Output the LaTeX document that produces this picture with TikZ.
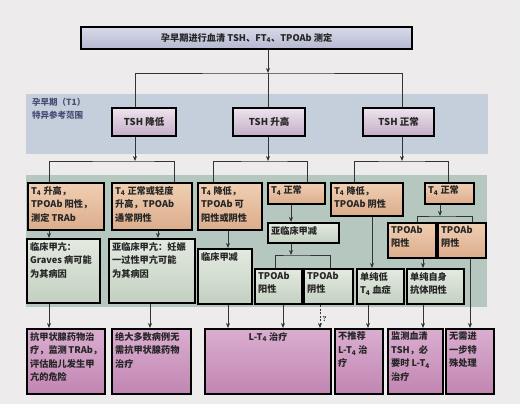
\documentclass[tikz,border=0pt]{standalone}
\usepackage{fontspec}
\newfontfamily\cjk{Noto Sans CJK SC}
\usetikzlibrary{arrows.meta}
\definecolor{paper}{HTML}{EDEBEC}
\definecolor{bandblue}{HTML}{C4CFDB}
\definecolor{bandgreen}{HTML}{B6C7BF}
\definecolor{headA}{HTML}{D8DAEA}
\definecolor{headB}{HTML}{B5B8D0}
\definecolor{tshA}{HTML}{EDE3ED}
\definecolor{tshB}{HTML}{C3AEC6}
\definecolor{orA}{HTML}{F0CFB2}
\definecolor{orB}{HTML}{DBAC8B}
\definecolor{grA}{HTML}{E4EAE0}
\definecolor{grB}{HTML}{C2D0C0}
\definecolor{puA}{HTML}{DAAED0}
\definecolor{puB}{HTML}{C185B2}
\newcommand\cell[3]{\parbox[c][#2][t]{#1}{#3}}
\newcommand\Tfour{T\textsubscript{4}}

\begin{document}
\begin{tikzpicture}[x=1pt,y=-1pt,
  box/.style={draw=black,line width=2.2pt,anchor=north west,inner sep=3pt,
    font=\cjk\bfseries\fontsize{9.2}{13.5}\selectfont,text=black!85},
  hbox/.style={box,top color=headA,bottom color=headB,minimum width=331pt,minimum height=22pt},
  tbox/.style={box,top color=tshA,bottom color=tshB,minimum height=28pt,
    font=\cjk\bfseries\fontsize{9.5}{12}\selectfont},
  obox/.style={box,top color=orA,bottom color=orB},
  gbox/.style={box,top color=grA,bottom color=grB},
  pbox/.style={box,top color=puA,bottom color=puB},
  note/.style={anchor=north west,inner sep=0pt,align=left,text=black!60!blue!40!gray,
    font=\cjk\bfseries\fontsize{8.5}{12.5}\selectfont},
  line/.style={draw=black!80,line width=0.9pt},
  arr/.style={line,-{Stealth[length=5pt,width=4pt]}},
  darr/.style={arr,dash pattern=on 2pt off 1.5pt},
  qmark/.style={right,pos=0.6,inner sep=2pt,font=\bfseries\fontsize{7}{8}\selectfont}]
\useasboundingbox[fill=paper] (0,0) rectangle (520,404);
\fill[bandblue] (26,94) rectangle (488,154);
\fill[bandgreen] (26,175) rectangle (487,307);
\node[note] (t1) at (32,98) {孕早期（T1）\\特异参考范围};

\node[hbox] (head) at (80,26) {孕早期进行血清 TSH、FT\textsubscript{4}、TPOAb 测定};
\node[tbox,minimum width=64pt] (tshlo) at (111,107) {TSH 降低};
\node[tbox,minimum width=72pt] (tshhi) at (232,107) {TSH 升高};
\node[tbox,minimum width=71pt] (tshnm) at (362,107) {TSH 正常};

\node[obox] (o1) at (27,182) {\cell{70pt}{41pt}{\Tfour\ 升高，\\TPOAb 阳性，\\测定 TRAb}};
\node[obox] (o2) at (111,182) {\cell{74pt}{41pt}{\Tfour\ 正常或轻度\\升高，TPOAb\\通常阴性}};
\node[obox] (o3) at (197,182) {\cell{58pt}{41pt}{\Tfour\ 降低，\\TPOAb 可\\阳性或阴性}};
\node[obox] (o4) at (267,182) {\cell{51pt}{15pt}{\Tfour\ 正常}};
\node[obox] (o5) at (330,182) {\cell{66pt}{27pt}{\Tfour\ 降低，\\TPOAb 阴性}};
\node[obox] (o6) at (424,182) {\cell{43pt}{15pt}{\Tfour\ 正常}};
\node[gbox] (sub) at (267,222) {\cell{65pt}{14pt}{亚临床甲减}};
\node[obox] (o7) at (387,222) {\cell{42pt}{29pt}{TPOAb\\阳性}};
\node[obox] (o8) at (437,222) {\cell{42pt}{29pt}{TPOAb\\阴性}};

\node[gbox] (g1) at (26,238) {\cell{67pt}{58pt}{临床甲亢：\\Graves 病可能\\为其病因}};
\node[gbox] (g2) at (108,238) {\cell{80pt}{58pt}{亚临床甲亢：妊娠\\一过性甲亢可能\\为其病因}};
\node[gbox] (g3) at (197,248) {\cell{48pt}{49pt}{临床甲减}};
\node[gbox] (g4) at (254,268) {\cell{41pt}{29pt}{TPOAb\\阳性}};
\node[gbox] (g5) at (303,268) {\cell{43pt}{29pt}{TPOAb\\阴性}};
\node[gbox] (g6) at (356,268) {\cell{41pt}{29pt}{单纯低\\\Tfour\ 血症}};
\node[gbox] (g7) at (406,268) {\cell{51pt}{29pt}{单纯自身\\抗体阳性}};

\node[pbox] (p1) at (26,328) {\cell{72pt}{59pt}{抗甲状腺药物治\\疗，监测 TRAb，\\评估胎儿发生甲\\亢的危险}};
\node[pbox] (p2) at (111,328) {\cell{73pt}{59pt}{绝大多数病例无\\需抗甲状腺药物\\治疗}};
\node[pbox] (p3) at (204,328) {\cell{120pt}{59pt}{\centering L-\Tfour\ 治疗}};
\node[pbox] (p4) at (334,328) {\cell{42pt}{59pt}{不推荐\\L-\Tfour\ 治\\疗}};
\node[pbox] (p5) at (387,328) {\cell{49pt}{59pt}{监测血清\\TSH，必\\要时 L-\Tfour\\治疗}};
\node[pbox] (p6) at (445,328) {\cell{42pt}{59pt}{无需进\\一步特\\殊处理}};

\foreach \x in {49,150,158,174,213,228,275,283,307,320,330,354,368,372,417,423,448,470,472}
  \coordinate (c\x) at (\x,0);
\coordinate (j0) at (268,73);
\coordinate (j1) at (135,161);
\coordinate (j2) at (268,161);
\coordinate (j3) at (402,161);
\coordinate (j4) at (291,255);
\coordinate (j5) at (440,216);

\draw[line] (tshlo.north -| j1) |- (j0) -| (tshnm.north -| j3);
\draw[line] (j0) -- (tshhi.north -| j0);
\draw[line] (o1.north -| c49) |- (j1) -| (o2.north -| c174);
\draw[line] (o3.north -| c213) |- (j2) -| (o4.north -| c307);
\draw[line] (o5.north -| c354) |- (j3) -| (o6.north -| c448);
\draw[line] (g4.north -| c275) |- (j4) -| (g5.north -| c330);
\draw[line] (o7.north -| c417) |- (j5) -| (o8.north -| c472);

\draw[arr] (head.south -| j0) -- (j0);
\draw[arr] (tshlo.south -| j1) -- (j1);
\draw[arr] (tshhi.south -| j2) -- (j2);
\draw[arr] (tshnm.south -| j3) -- (j3);
\draw[arr] (o1.south -| c49) -- (g1.north -| c49);
\draw[arr] (o2.south -| c158) -- (g2.north -| c158);
\draw[arr] (o3.south -| c228) -- (g3.north -| c228);
\draw[arr] (o4.south -| j4) -- (sub.north -| j4);
\draw[arr] (sub.south -| j4) -- (j4);
\draw[arr] (o5.south -| c372) -- (g6.north -| c372);
\draw[arr] (o6.south -| j5) -- (j5);
\draw[arr] (o7.south -| c423) -- (g7.north -| c423);
\draw[arr] (g1.south -| c49) -- (p1.north -| c49);
\draw[arr] (g2.south -| c150) -- (p2.north -| c150);
\draw[arr] (g3.south -| c228) -- (p3.north -| c228);
\draw[arr] (g4.south -| c283) -- (p3.north -| c283);
\draw[darr] (g5.south -| c320) -- node[qmark] (q) {?} (p3.north -| c320);
\draw[arr] (g6.south -| c368) -- (p4.north -| c368);
\draw[arr] (g7.south -| c423) -- (p5.north -| c423);
\draw[arr] (o8.south -| c470) -- (p6.north -| c470);
\end{tikzpicture}
\end{document}
